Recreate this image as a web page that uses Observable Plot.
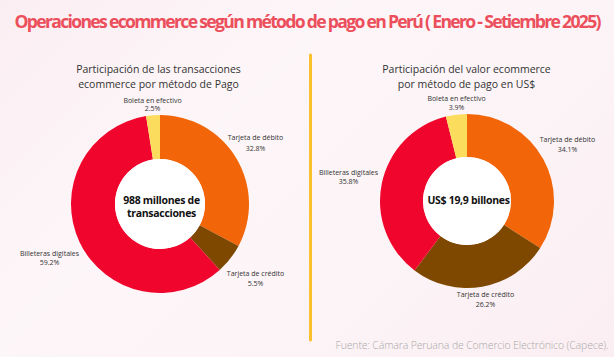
<!DOCTYPE html>
<html>
<head>
<meta charset="utf-8">
<script src="https://cdn.jsdelivr.net/npm/d3@7"></script>
<script src="https://cdn.jsdelivr.net/npm/@observablehq/plot@0.6"></script>
<style>
  html, body { margin: 0; padding: 0; }
  body { width: 614px; height: 357px; overflow: hidden;
         background: linear-gradient(135deg, #fbeef2 0%, #fdf6f8 35%, #fcf3f6 70%, #fbeef2 100%); }
  #chart svg { display: block; }
</style>
</head>
<body>
<div id="chart"></div>
<script>
// ---- Data ----
const title = "Operaciones ecommerce según método de pago en Perú ( Enero - Setiembre 2025)";
const subtitles = [
  "Participación de las transacciones\necommerce por método de Pago",
  "Participación del valor ecommerce\npor método de pago en US$"
];
const centerTexts = ["988 millones de\ntransacciones", "US$ 19,9 billones"];
const methods = ["Tarjeta de débito", "Tarjeta de crédito", "Billeteras digitales", "Boleta en efectivo"];
const shareTransactions = [32.8, 5.5, 59.2, 2.5];
const shareValue = [34.1, 26.2, 35.8, 3.9];
const methodColors = ["#f26508", "#7f4800", "#f0052c", "#fcdc5c"];
const source = "Fuente: Cámara Peruana de Comercio Electrónico (Capece).";

// ---- Layout (positions, not data) ----
const W = 614, H = 357;
const panels = [
  {cx: 160, cy: 204, r0: 45, r1: 89, subX: 158, subY: 68, centerY: 206},
  {cx: 467, cy: 201, r0: 44, r1: 87, subX: 466, subY: 68, centerY: 199}
];
// per panel, per method: [x, yName, yPct]
const labelPos = [
  [[255, 137, 148], [255, 273, 283], [49, 253, 262], [152, 100, 108]],
  [[567, 139, 149], [485, 294, 304], [348, 172, 181], [456, 98.5, 107]]
];

const shares = [shareTransactions, shareValue];
const slices = panels.map((p, pi) => methods.map((m, i) => ({method: m, share: shares[pi][i]})));
const labelRows = panels.flatMap((p, pi) => methods.map((m, i) => ({
  method: m, share: shares[pi][i], pos: labelPos[pi][i]
})));

// ---- Custom donut mark using Plot's scales ----
class Donut extends Plot.Mark {
  constructor(data, {cx, cy, r0, r1, ...options} = {}) {
    super(data, {
      share: {value: "share"},
      fill: {value: "method", scale: "color"}
    }, options);
    Object.assign(this, {cx, cy, r0, r1});
  }
  render(index, scales, values) {
    const pies = d3.pie().sort(null).value(i => values.share[i])(index);
    const arc = d3.arc().innerRadius(this.r0).outerRadius(this.r1);
    const g = d3.create("svg:g")
      .attr("transform", `translate(${scales.x(this.cx)},${scales.y(this.cy)})`);
    g.selectAll("path").data(pies).join("path")
      .attr("d", arc)
      .attr("fill", d => values.fill[d.data]);
    g.append("circle").attr("r", this.r0).attr("fill", "#ffffff");
    return g.node();
  }
}

const font = "'Open Sans', sans-serif";
const textColor = "#333333";

const marks = [];
marks.push(Plot.ruleX([310], {y1: 55, y2: 340, stroke: "#fbc02d", strokeWidth: 3, strokeLinecap: "round"}));
panels.forEach((p, pi) => marks.push(new Donut(slices[pi], p)));
marks.push(Plot.text([title], {
  x: () => 307.5, y: () => 22, text: d => d, fontFamily: font, fontWeight: 700,
  fontSize: 17.6, fill: "#ec4f5c"
}));
marks.push(Plot.text(subtitles, {
  x: (d, i) => panels[i].subX, y: (d, i) => panels[i].subY + 7.5, text: d => d,
  fontFamily: font, fontSize: 10.5, fill: textColor, lineHeight: 1.43
}));
marks.push(Plot.text(centerTexts, {
  x: (d, i) => panels[i].cx + 1, y: (d, i) => panels[i].centerY, text: d => d,
  fontFamily: font, fontWeight: 700, fontSize: 10.5, fill: "#111111", lineHeight: 1.25
}));
marks.push(Plot.text(labelRows, {
  x: d => d.pos[0], y: d => d.pos[1], text: "method",
  fontFamily: font, fontSize: 7, fill: textColor
}));
marks.push(Plot.text(labelRows, {
  x: d => d.pos[0], y: d => d.pos[2], text: d => d.share.toFixed(1) + "%",
  fontFamily: font, fontSize: 7, fill: textColor
}));
marks.push(Plot.text([source], {
  x: () => 608, y: () => 345.5, text: d => d, textAnchor: "end",
  fontFamily: font, fontWeight: 300, fontSize: 10.5, fill: "#a9a9a9"
}));

const chart = Plot.plot({
  width: W, height: H, margin: 0,
  style: {background: "transparent", overflow: "visible"},
  x: {domain: [0, W], range: [0, W], axis: null},
  y: {domain: [0, H], range: [0, H], axis: null},
  color: {domain: methods, range: methodColors},
  marks
});
const texts = d3.select(chart).selectAll("text");
texts.filter(function() { return this.textContent === title; })
  .attr("textLength", 587).attr("lengthAdjust", "spacing");
texts.filter(function() { return this.textContent === source; })
  .attr("textLength", 273).attr("lengthAdjust", "spacing");
texts.filter(function() { return centerTexts.some(t => t.replace("\n", "") === this.textContent); })
  .style("letter-spacing", "-0.3px");
document.getElementById("chart").appendChild(chart);
</script>
</body>
</html>
